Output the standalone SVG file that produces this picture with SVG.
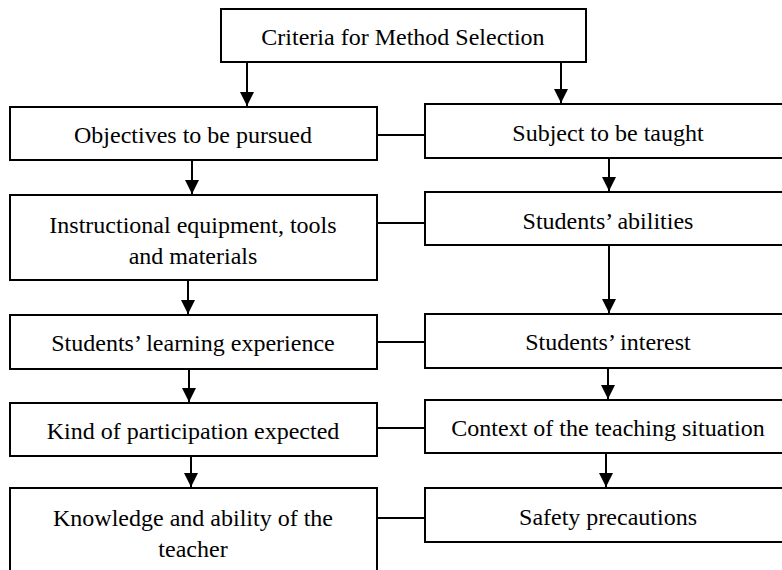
<svg xmlns="http://www.w3.org/2000/svg" width="782" height="570" viewBox="0 0 782 570">
<defs>
<style>
.box{fill:#fff;stroke:#000;stroke-width:2}
.t{font-family:"Liberation Serif","Times New Roman",serif;font-size:24px;fill:#000;text-anchor:middle}
.c{stroke:#000;stroke-width:2;fill:none}
.a{stroke:#000;stroke-width:2;fill:none;marker-end:url(#ah)}
</style>
<marker id="ah" markerWidth="8" markerHeight="8" refX="7" refY="3.5" orient="auto" markerUnits="strokeWidth">
<path d="M0,0 L7,3.5 L0,7 Z" fill="#000"/>
</marker>
</defs>
<rect width="782" height="570" fill="#fff"/>
<g id="connectors">
<line class="c" x1="377" y1="135" x2="425" y2="135"/>
<line class="c" x1="377" y1="223" x2="425" y2="223"/>
<line class="c" x1="377" y1="342" x2="425" y2="342"/>
<line class="c" x1="377" y1="428" x2="425" y2="428"/>
<line class="c" x1="377" y1="518" x2="425" y2="518"/>
<line class="a" x1="247" y1="62" x2="247" y2="106"/>
<line class="a" x1="561" y1="62" x2="561" y2="103"/>
<line class="a" x1="192" y1="160" x2="192" y2="194"/>
<line class="a" x1="609" y1="158" x2="609" y2="191"/>
<line class="a" x1="188" y1="280" x2="188" y2="314"/>
<line class="a" x1="609" y1="245" x2="609" y2="313"/>
<line class="a" x1="189" y1="369" x2="189" y2="402"/>
<line class="a" x1="608" y1="368" x2="608" y2="399"/>
<line class="a" x1="191" y1="456" x2="191" y2="487"/>
<line class="a" x1="606" y1="453" x2="606" y2="487"/>
</g>
<g id="criteria">
<rect class="box" x="221" y="9" width="365" height="53"/>
<text class="t" x="403" y="45">Criteria for Method Selection</text>
</g>
<g id="objectives">
<rect class="box" x="10" y="107" width="367" height="53"/>
<text class="t" x="193" y="143">Objectives to be pursued</text>
</g>
<g id="subject">
<rect class="box" x="425" y="104" width="365" height="54"/>
<text class="t" x="608" y="141">Subject to be taught</text>
</g>
<g id="instructional">
<rect class="box" x="10" y="195" width="367" height="85"/>
<text class="t" x="193" y="233">Instructional equipment, tools</text>
<text class="t" x="193" y="264">and materials</text>
</g>
<g id="abilities">
<rect class="box" x="425" y="192" width="365" height="53"/>
<text class="t" x="608" y="229">Students’ abilities</text>
</g>
<g id="learning">
<rect class="box" x="10" y="315" width="367" height="54"/>
<text class="t" x="193" y="351">Students’ learning experience</text>
</g>
<g id="interest">
<rect class="box" x="425" y="314" width="365" height="54"/>
<text class="t" x="608" y="350">Students’ interest</text>
</g>
<g id="participation">
<rect class="box" x="10" y="403" width="367" height="53"/>
<text class="t" x="193" y="439">Kind of participation expected</text>
</g>
<g id="context">
<rect class="box" x="425" y="400" width="365" height="53"/>
<text class="t" x="608" y="436">Context of the teaching situation</text>
</g>
<g id="knowledge">
<rect class="box" x="10" y="488" width="367" height="90"/>
<text class="t" x="193" y="526">Knowledge and ability of the</text>
<text class="t" x="193" y="557">teacher</text>
</g>
<g id="safety">
<rect class="box" x="425" y="488" width="365" height="54"/>
<text class="t" x="608" y="525">Safety precautions</text>
</g>
</svg>
